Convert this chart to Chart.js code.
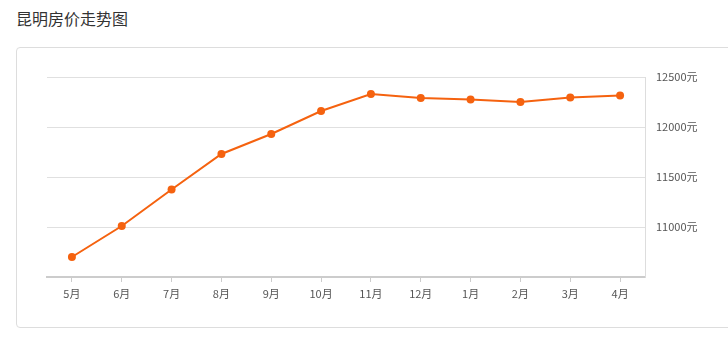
<!DOCTYPE html>
<html>
<head>
<meta charset="utf-8">
<script src="https://cdn.jsdelivr.net/npm/chart.js@4/dist/chart.umd.min.js"></script>
<style>
  html, body { margin: 0; padding: 0; background: #fff; overflow: hidden; width: 728px; height: 347px; }
  .title { position: absolute; left: 16px; top: 6px; font: 16px "Noto Sans CJK SC", sans-serif; color: #333; }
  .box { position: absolute; left: 16px; top: 47px; width: 740px; height: 279px; border: 1px solid #ddd; border-radius: 4px; }
  #c { position: absolute; left: 0; top: 0; }
</style>
</head>
<body>
<div class="title">昆明房价走势图</div>
<div class="box"></div>
<canvas id="c" width="728" height="347"></canvas>
<script>
  // 月份
  var months = ["5月", "6月", "7月", "8月", "9月", "10月", "11月", "12月", "1月", "2月", "3月", "4月"];
  // 均价（元/㎡）
  var prices = [10700, 11010, 11375, 11730, 11930, 12160, 12330, 12290, 12275, 12250, 12295, 12315];
  var yMin = 10500, yMax = 12500, yStep = 500;

  var orange = "#f5620f";
  var font = "'Noto Sans CJK SC', sans-serif";

  new Chart(document.getElementById("c"), {
    type: "line",
    data: {
      labels: months,
      datasets: [{
        data: prices,
        borderColor: orange,
        backgroundColor: orange,
        borderWidth: 2,
        pointRadius: 4,
        pointBorderWidth: 0,
        pointHoverRadius: 4,
        tension: 0
      }]
    },
    options: {
      responsive: false,
      animation: false,
      layout: { padding: { left: 47, top: 77, right: 0, bottom: 0 } },
      plugins: { legend: { display: false }, tooltip: { enabled: false } },
      scales: {
        x: {
          offset: true,
          grid: { drawOnChartArea: false, drawTicks: true, tickLength: 5, color: "#ccc" },
          border: { color: "#ccc", width: 2 },
          ticks: { color: "#555", font: { family: font, size: 11 }, padding: 5, maxRotation: 0 },
          afterFit: function (s) { s.height = 70; }
        },
        y: {
          position: "right",
          min: yMin,
          max: yMax,
          grid: { color: "#e0e0e0", drawTicks: false },
          border: { color: "#ddd", width: 1 },
          ticks: {
            stepSize: yStep,
            padding: 11,
            color: "#555",
            font: { family: font, size: 11 },
            callback: function (v) { return v === yMin ? "" : v + "元"; }
          },
          afterFit: function (s) { s.width = 83; }
        }
      }
    }
  });
</script>
</body>
</html>
